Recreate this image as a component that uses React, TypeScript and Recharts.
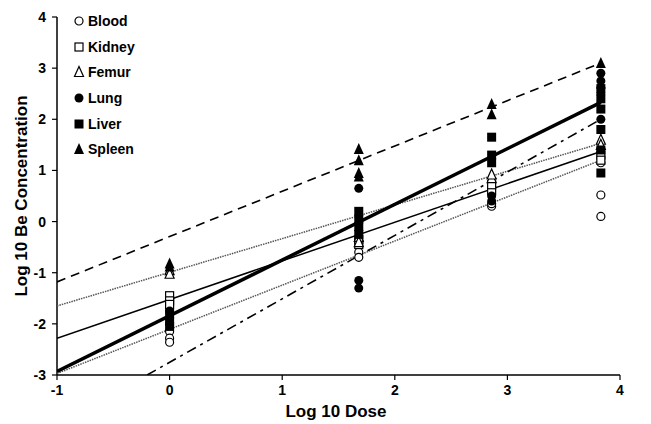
import React from "react";
import { ScatterChart, Scatter, XAxis, YAxis } from "recharts";

// dose levels (log10) where the measurements sit
const doses = [0, 1.68, 2.86, 3.83];

// log10 Be concentration per organ, one list per dose level
const blood = [[-2.15, -2.28, -2.36], [-0.6, -0.7], [0.3, 0.35], [1.15, 0.52, 0.1]];
const kidney = [[-1.45, -1.55, -1.62], [-0.35, -0.45], [0.6, 0.72], [1.3, 1.2]];
const femur = [[-0.95, -1.02], [-0.3, -0.4], [0.85, 0.92], [1.6, 1.5]];
const lung = [[-1.75, -1.9], [0.65, -1.15, -1.3], [0.5, 0.4], [2.9, 2.75, 2.5, 2.0]];
const liver = [[-1.8, -1.95, -2.05], [0.2, 0.05, -0.1, -0.25], [1.65, 1.3, 1.15], [2.6, 2.4, 2.2, 1.8, 1.4, 0.95]];
const spleen = [[-0.82, -0.88], [1.42, 1.2, 0.95, 0.88], [2.3, 2.1], [3.1, 2.7]];

// regression lines: [x, y] end points
const fitSpleen = [[-1, -1.18], [3.83, 3.1]];
const fitLiver = [[-1, -2.93], [3.83, 2.33]];
const fitLung = [[-0.2, -3], [3.83, 2.0]];
const fitFemur = [[-1, -1.65], [3.83, 1.53]];
const fitKidney = [[-1, -2.28], [3.83, 1.37]];
const fitBlood = [[-1, -2.97], [3.83, 1.2]];

const xTicks = [-1, 0, 1, 2, 3, 4];
const yTicks = [-3, -2, -1, 0, 1, 2, 3, 4];

const FONT = "'Liberation Sans', Arial, sans-serif";

const toPoints = (groups: number[][]) =>
  groups.flatMap((vals, i) => vals.map((y) => ({ x: doses[i], y })));
const toLine = (pts: number[][]) => pts.map(([x, y]) => ({ x, y }));

type Kind = "circle" | "square" | "triangle";

const Marker = ({ kind, filled, cx, cy }: { kind: Kind; filled: boolean; cx: number; cy: number }) => {
  const fill = filled ? "#000" : "#fff";
  const sw = filled ? 0 : 1.2;
  if (kind === "circle") {
    const r = filled ? 4.5 : 4;
    return <circle cx={cx} cy={cy} r={r} fill={fill} stroke="#000" strokeWidth={sw} />;
  }
  if (kind === "square") {
    const s = filled ? 9 : 8;
    return <rect x={cx - s / 2} y={cy - s / 2} width={s} height={s} fill={fill} stroke="#000" strokeWidth={sw} />;
  }
  const h = filled ? 10 : 9;
  const w = filled ? 10 : 9;
  return (
    <polygon
      points={`${cx},${cy - h / 2 - 1} ${cx - w / 2},${cy + h / 2} ${cx + w / 2},${cy + h / 2}`}
      fill={fill}
      stroke="#000"
      strokeWidth={sw}
    />
  );
};

const shapeOf = (kind: Kind, filled: boolean) => (p: any) =>
  <Marker kind={kind} filled={filled} cx={p.cx} cy={p.cy} />;

const series = [
  { name: "Blood", data: blood, kind: "circle" as Kind, filled: false },
  { name: "Kidney", data: kidney, kind: "square" as Kind, filled: false },
  { name: "Femur", data: femur, kind: "triangle" as Kind, filled: false },
  { name: "Lung", data: lung, kind: "circle" as Kind, filled: true },
  { name: "Liver", data: liver, kind: "square" as Kind, filled: true },
  { name: "Spleen", data: spleen, kind: "triangle" as Kind, filled: true },
];

const fits = [
  { data: fitBlood, stroke: "#555", width: 1.5, dash: "1.5 1" },
  { data: fitFemur, stroke: "#555", width: 1.5, dash: "1.5 1" },
  { data: fitKidney, stroke: "#000", width: 1.5, dash: undefined },
  { data: fitLung, stroke: "#000", width: 1.6, dash: "10 5 3 5" },
  { data: fitSpleen, stroke: "#000", width: 1.6, dash: "9 6" },
  { data: fitLiver, stroke: "#000", width: 3.5, dash: undefined },
];

const tickStyle = { fill: "#000", fontSize: 14, fontWeight: 700, fontFamily: FONT };

const Nothing = () => <g />;

const App = () => {
  return (
    <div style={{ position: "absolute", left: 0, top: 0, width: 651, height: 424, background: "#fff" }}>
      <ScatterChart width={651} height={424} margin={{ top: 17, right: 31, bottom: 19, left: 7 }}>
        <XAxis
          dataKey="x"
          type="number"
          domain={[-1, 4]}
          ticks={xTicks}
          allowDataOverflow
          height={30}
          tick={tickStyle}
          tickSize={5}
          tickMargin={5}
          axisLine={{ stroke: "#000", strokeWidth: 1.5 }}
          tickLine={{ stroke: "#000", strokeWidth: 1.2 }}
          label={{
            content: () => (
              <text x={336} y={417} textAnchor="middle" fontFamily={FONT} fontWeight={700} fontSize={17} fill="#000">
                Log 10 Dose
              </text>
            ),
          }}
        />
        <YAxis
          dataKey="y"
          type="number"
          domain={[-3, 4]}
          ticks={yTicks}
          allowDataOverflow
          width={50}
          tick={tickStyle}
          tickSize={5}
          tickMargin={6}
          axisLine={{ stroke: "#000", strokeWidth: 1.5 }}
          tickLine={{ stroke: "#000", strokeWidth: 1.2 }}
          label={{
            content: () => (
              <text
                x={27}
                y={196}
                transform="rotate(-90 27 196)"
                textAnchor="middle"
                fontFamily={FONT}
                fontWeight={700}
                fontSize={17}
                fill="#000"
              >
                Log 10 Be Concentration
              </text>
            ),
          }}
        />
        {fits.map((f, i) => (
          <Scatter
            key={"fit" + i}
            data={toLine(f.data)}
            line={{ stroke: f.stroke, strokeWidth: f.width, strokeDasharray: f.dash }}
            shape={Nothing}
            isAnimationActive={false}
          />
        ))}
        {series.map((s) => (
          <Scatter
            key={s.name}
            name={s.name}
            data={toPoints(s.data)}
            shape={shapeOf(s.kind, s.filled)}
            isAnimationActive={false}
          />
        ))}
      </ScatterChart>
      <div style={{ position: "absolute", left: 72, top: 8, fontFamily: FONT, fontWeight: 700, fontSize: 14 }}>
        {series.map((s) => (
          <div key={s.name} style={{ display: "flex", alignItems: "center", height: 25.7 }}>
            <svg width={14} height={14} style={{ marginRight: 2 }}>
              <Marker kind={s.kind} filled={s.filled} cx={7} cy={7} />
            </svg>
            <span>{s.name}</span>
          </div>
        ))}
      </div>
    </div>
  );
};

export default App;
